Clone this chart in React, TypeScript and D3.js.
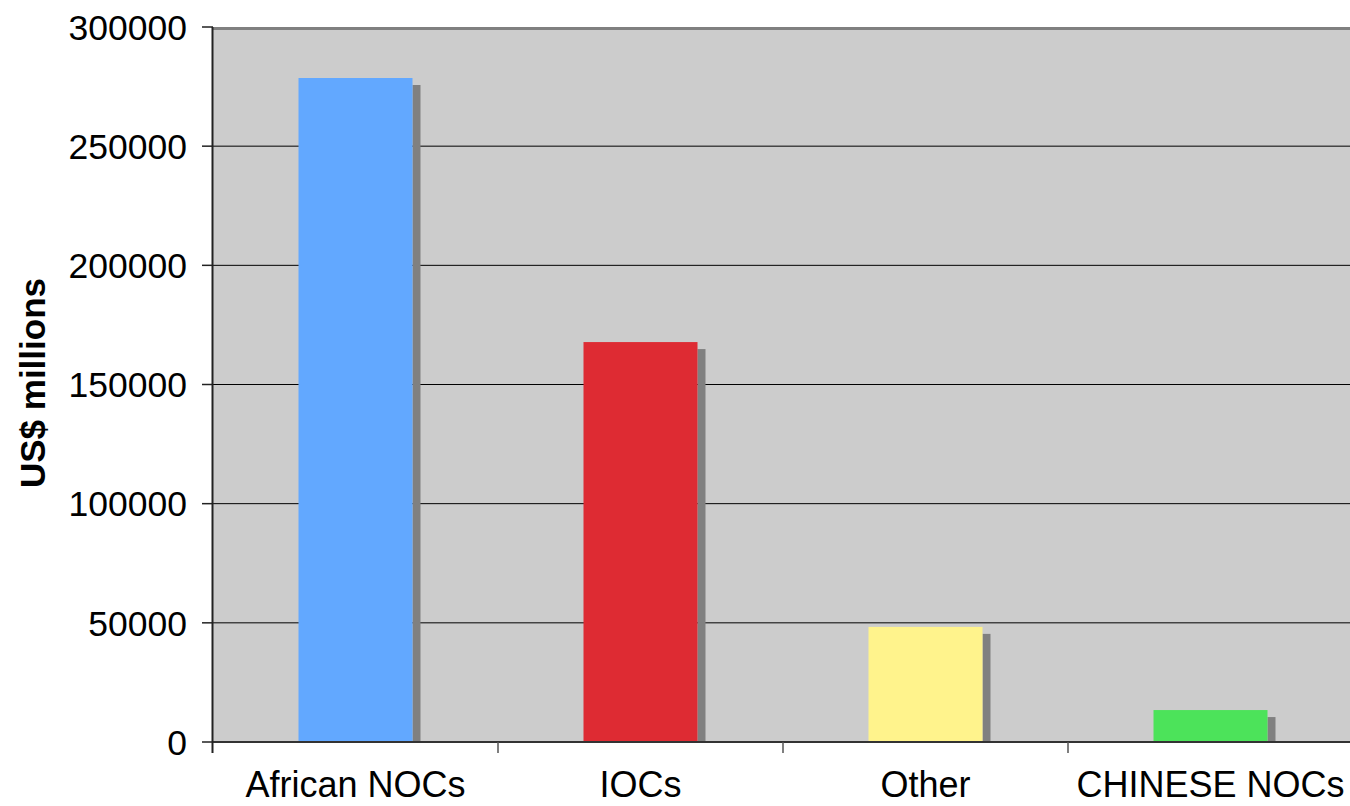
import React from "react";
import * as d3 from "d3";

const categories = ["African NOCs", "IOCs", "Other", "CHINESE NOCs"];
const values = [278600, 167800, 48300, 13400];
const barColors = ["#62a8ff", "#de2b33", "#fff38c", "#4ce35a"];
const yTicks = [0, 50000, 100000, 150000, 200000, 250000, 300000];
const yTitle = "US$ millions";

export default function App() {
  const W = 1350, H = 806;
  const left = 213, top = 27, bottom = 742, right = 1353;
  const x = d3.scaleBand<string>().domain(categories).range([left, right]).paddingInner(0.6).paddingOuter(0.3);
  const xb = d3.scaleBand<string>().domain(categories).range([left, right]);
  const y = d3.scaleLinear().domain([0, 300000]).range([bottom, top]);
  const font = "'Liberation Sans', Arial, sans-serif";
  return (
    <svg width={W} height={H} style={{ position: "absolute", left: 0, top: 0, background: "#fff" }}>
      <rect x={left} y={top} width={right - left} height={bottom - top} fill="#cccccc" />
      {yTicks.slice(1, -1).map((t) => (
        <line key={t} x1={left} x2={right} y1={y(t)} y2={y(t)} stroke="#000" strokeWidth={1} />
      ))}
      <line x1={left} x2={right} y1={top + 1.5} y2={top + 1.5} stroke="#808080" strokeWidth={3} />
      {categories.map((c, i) => {
        const bx = x(c)!;
        const bw = x.bandwidth();
        const by = y(values[i]);
        return (
          <g key={c}>
            <rect x={bx + bw} y={by + 7} width={8} height={bottom - by - 7} fill="#808080" />
            <rect x={bx} y={by} width={bw} height={bottom - by} fill={barColors[i]} />
          </g>
        );
      })}
      <line x1={left} x2={right} y1={bottom} y2={bottom} stroke="#333" strokeWidth={2} />
      <line x1={left - 0.5} x2={left - 0.5} y1={top} y2={bottom + 11} stroke="#222" strokeWidth={2} />
      {yTicks.map((t) => (
        <g key={t}>
          <line x1={202} x2={left} y1={y(t)} y2={y(t)} stroke="#222" strokeWidth={1.5} />
          <text x={187} y={y(t)} dy="0.36em" textAnchor="end" fontFamily={font} fontSize={35.5} fill="#000">
            {t}
          </text>
        </g>
      ))}
      {categories.slice(1).map((c) => (
        <line key={c} x1={xb(c)!} x2={xb(c)!} y1={bottom} y2={bottom + 11} stroke="#555" strokeWidth={1.5} />
      ))}
      {categories.map((c) => (
        <text key={c} x={xb(c)! + xb.bandwidth() / 2} y={797} textAnchor="middle" fontFamily={font} fontSize={36} fill="#000">
          {c}
        </text>
      ))}
      <text transform={`translate(45,383) rotate(-90)`} textAnchor="middle" fontFamily={font} fontSize={35} fontWeight="bold" fill="#000">
        {yTitle}
      </text>
    </svg>
  );
}
